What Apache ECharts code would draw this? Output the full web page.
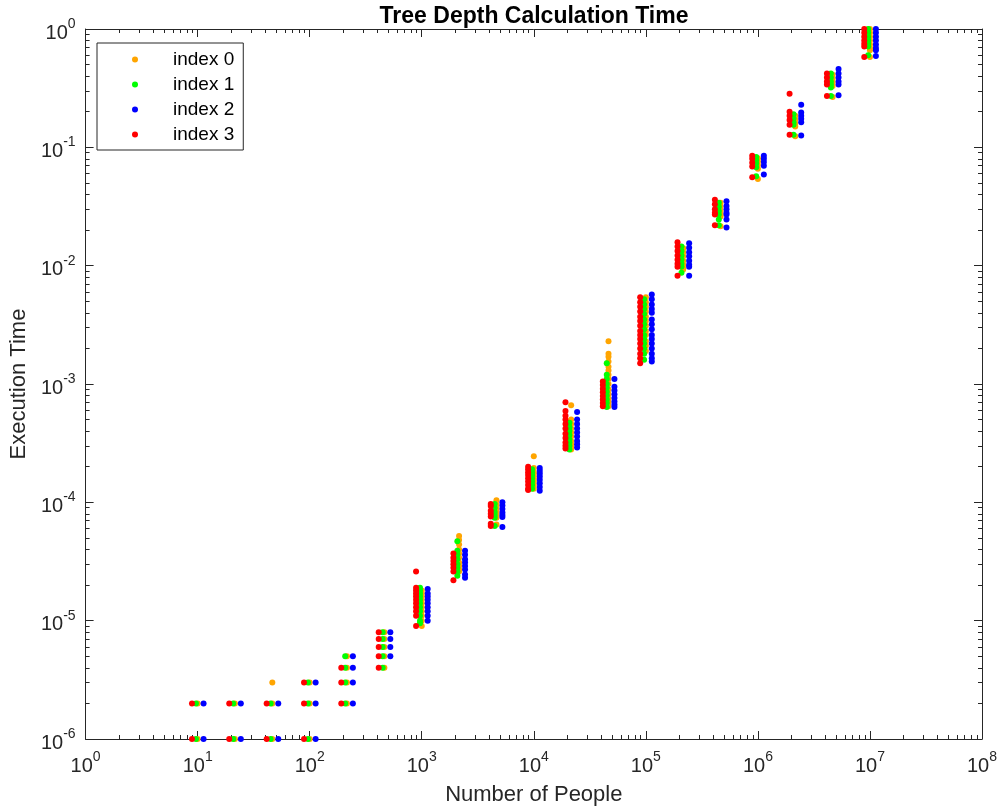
<!DOCTYPE html>
<html>
<head>
<meta charset="utf-8">
<title>Tree Depth Calculation Time</title>
<script src="https://cdn.jsdelivr.net/npm/echarts@6/dist/echarts.min.js"></script>
<style>
  html, body { margin: 0; padding: 0; background: #fff; }
  #main { width: 1001px; height: 811px; }
</style>
</head>
<body>
<div id="main"></div>
<script>
// problem sizes (number of people), 3 per decade
var sizes = [10, 21.5, 46.4, 100, 215, 464, 1000, 2154, 4642, 10000, 21544, 46416,
             100000, 215443, 464159, 1000000, 2154435, 4641589, 10000000];
var names = ['index 0', 'index 1', 'index 2', 'index 3'];
var colors = ['#FFA500', '#00FF00', '#0000FF', '#FF0000'];
// small horizontal shift of each index around the size
var jitter = [1.0, 0.965, 1.13, 0.89];

// execution times, one list per size
var times0 = [
  [1e-6, 2e-6], [1e-6, 2e-6], [1e-6, 2e-6, 3e-6], [1e-6, 2e-6, 3e-6],
  [2e-6, 3e-6, 4e-6, 5e-6], [4e-6, 5e-6, 6e-6, 7e-6, 8e-6],
  [1.8e-5, 1.7e-5, 1.6e-5, 1.5e-5, 1.4e-5, 1.3e-5, 1.2e-5, 1.1e-5, 1.0e-5, 9e-6],
  [5.2e-5, 4.8e-5, 4.4e-5, 4.0e-5, 3.7e-5, 3.4e-5, 3.1e-5, 2.9e-5, 2.7e-5, 2.6e-5],
  [1.04e-4, 9.6e-5, 9.0e-5, 8.4e-5, 7.9e-5, 7.4e-5, 6.5e-5],
  [2.45e-4, 1.95e-4, 1.8e-4, 1.7e-4, 1.6e-4, 1.5e-4, 1.4e-4, 1.3e-4],
  [6.6e-4, 5.0e-4, 4.6e-4, 4.2e-4, 3.9e-4, 3.6e-4, 3.3e-4, 3.1e-4, 2.9e-4, 2.8e-4],
  [2.3e-3, 1.8e-3, 1.7e-3, 1.55e-3, 1.4e-3, 1.3e-3, 1.2e-3, 1.1e-3, 1.0e-3, 9.0e-4, 8.2e-4, 7.5e-4, 7.0e-4, 6.5e-4],
  [5.4e-3, 4.9e-3, 4.5e-3, 4.1e-3, 3.7e-3, 3.4e-3, 3.1e-3, 2.8e-3, 2.6e-3, 2.3e-3, 2.1e-3, 1.9e-3],
  [1.4e-2, 1.3e-2, 1.2e-2, 1.1e-2, 1.02e-2, 9.5e-3, 9.3e-3],
  [3.4e-2, 3.15e-2, 2.9e-2, 2.7e-2, 2.6e-2, 2.15e-2],
  [8.1e-2, 7.6e-2, 7.1e-2, 6.6e-2, 5.4e-2],
  [0.185, 0.172, 0.16, 0.15, 0.124],
  [0.41, 0.38, 0.355, 0.33, 0.266],
  [1.0, 0.93, 0.86, 0.8, 0.74, 0.69, 0.66, 0.58]
];
var times1 = [
  [1e-6, 2e-6], [1e-6, 2e-6], [1e-6, 2e-6], [1e-6, 2e-6, 3e-6],
  [2e-6, 3e-6, 4e-6, 5e-6], [4e-6, 5e-6, 6e-6, 7e-6, 8e-6],
  [1.9e-5, 1.8e-5, 1.7e-5, 1.6e-5, 1.5e-5, 1.4e-5, 1.3e-5, 1.2e-5, 1.1e-5, 1.0e-5, 9.5e-6],
  [4.7e-5, 3.9e-5, 3.6e-5, 3.3e-5, 3.0e-5, 2.8e-5, 2.6e-5, 2.4e-5],
  [9.7e-5, 9.0e-5, 8.3e-5, 7.8e-5, 7.4e-5, 6.3e-5],
  [1.9e-4, 1.8e-4, 1.7e-4, 1.6e-4, 1.5e-4, 1.4e-4, 1.3e-4],
  [4.7e-4, 4.3e-4, 4.0e-4, 3.7e-4, 3.4e-4, 3.2e-4, 3.0e-4, 2.8e-4],
  [1.5e-3, 1.2e-3, 1.1e-3, 1.0e-3, 9.3e-4, 8.6e-4, 8.0e-4, 7.4e-4, 6.9e-4, 6.4e-4],
  [5.2e-3, 4.7e-3, 4.3e-3, 3.9e-3, 3.5e-3, 3.2e-3, 2.9e-3, 2.6e-3, 2.4e-3, 2.2e-3, 2.0e-3, 1.8e-3, 1.6e-3],
  [1.45e-2, 1.33e-2, 1.22e-2, 1.12e-2, 1.04e-2, 9.8e-3, 8.7e-3],
  [3.4e-2, 3.15e-2, 2.9e-2, 2.7e-2, 2.45e-2, 2.2e-2],
  [8.3e-2, 7.8e-2, 7.3e-2, 6.8e-2, 5.7e-2],
  [0.19, 0.175, 0.163, 0.155, 0.128],
  [0.42, 0.39, 0.36, 0.34, 0.32, 0.272],
  [1.0, 0.93, 0.86, 0.8, 0.75, 0.71, 0.60]
];
var times2 = [
  [1e-6, 2e-6], [1e-6, 2e-6], [1e-6, 2e-6], [1e-6, 2e-6, 3e-6],
  [2e-6, 3e-6, 4e-6, 5e-6], [5e-6, 6e-6, 7e-6, 8e-6],
  [1.85e-5, 1.7e-5, 1.6e-5, 1.5e-5, 1.4e-5, 1.3e-5, 1.2e-5, 1.1e-5, 1.0e-5],
  [3.9e-5, 3.6e-5, 3.3e-5, 3.1e-5, 2.9e-5, 2.7e-5, 2.45e-5, 2.3e-5],
  [1.0e-4, 9.4e-5, 8.8e-5, 8.2e-5, 7.8e-5, 7.5e-5, 6.2e-5],
  [1.95e-4, 1.85e-4, 1.75e-4, 1.65e-4, 1.55e-4, 1.45e-4, 1.35e-4, 1.25e-4],
  [5.8e-4, 5.0e-4, 4.6e-4, 4.2e-4, 3.9e-4, 3.6e-4, 3.3e-4, 3.1e-4, 2.9e-4],
  [1.1e-3, 9.5e-4, 8.8e-4, 8.2e-4, 7.6e-4, 7.1e-4, 6.7e-4, 6.4e-4],
  [5.7e-3, 5.2e-3, 4.7e-3, 4.3e-3, 4.0e-3, 3.5e-3, 3.2e-3, 2.9e-3, 2.6e-3, 2.4e-3, 2.2e-3, 2.0e-3, 1.8e-3, 1.65e-3, 1.55e-3],
  [1.55e-2, 1.42e-2, 1.3e-2, 1.2e-2, 1.1e-2, 1.02e-2, 9.8e-3, 8.2e-3],
  [3.5e-2, 3.2e-2, 3.0e-2, 2.8e-2, 2.7e-2, 2.45e-2, 2.1e-2],
  [8.5e-2, 8.0e-2, 7.5e-2, 7.0e-2, 5.9e-2],
  [0.229, 0.197, 0.185, 0.174, 0.163, 0.126],
  [0.46, 0.42, 0.39, 0.36, 0.34, 0.276],
  [1.0, 0.93, 0.86, 0.8, 0.74, 0.69, 0.66, 0.59]
];
var times3 = [
  [1e-6, 2e-6], [1e-6, 2e-6], [1e-6, 2e-6], [1e-6, 2e-6, 3e-6],
  [2e-6, 3e-6, 4e-6], [4e-6, 5e-6, 6e-6, 7e-6, 8e-6],
  [2.6e-5, 1.9e-5, 1.8e-5, 1.7e-5, 1.6e-5, 1.5e-5, 1.4e-5, 1.3e-5, 1.2e-5, 1.1e-5, 9e-6],
  [3.7e-5, 3.4e-5, 3.2e-5, 3.0e-5, 2.8e-5, 2.6e-5, 2.2e-5],
  [9.7e-5, 9.3e-5, 8.5e-5, 8.0e-5, 7.6e-5, 6.6e-5, 6.3e-5],
  [2.0e-4, 1.9e-4, 1.8e-4, 1.7e-4, 1.6e-4, 1.5e-4, 1.4e-4, 1.3e-4, 1.27e-4],
  [7.0e-4, 5.9e-4, 5.4e-4, 5.0e-4, 4.6e-4, 4.2e-4, 3.8e-4, 3.5e-4, 3.2e-4, 3.0e-4, 2.85e-4],
  [1.05e-3, 9.8e-4, 9.1e-4, 8.5e-4, 7.9e-4, 7.4e-4, 6.9e-4, 6.5e-4],
  [5.4e-3, 4.9e-3, 4.5e-3, 4.1e-3, 3.7e-3, 3.4e-3, 3.1e-3, 2.8e-3, 2.6e-3, 2.4e-3, 2.2e-3, 2.0e-3, 1.8e-3, 1.65e-3, 1.5e-3],
  [1.58e-2, 1.45e-2, 1.33e-2, 1.22e-2, 1.12e-2, 1.04e-2, 9.8e-3, 8.2e-3],
  [3.6e-2, 3.3e-2, 3.0e-2, 2.8e-2, 2.7e-2, 2.2e-2],
  [8.5e-2, 8.0e-2, 7.4e-2, 6.9e-2, 5.6e-2],
  [0.283, 0.2, 0.185, 0.17, 0.155, 0.128],
  [0.42, 0.39, 0.36, 0.34, 0.272],
  [1.0, 0.93, 0.86, 0.8, 0.75, 0.71, 0.58]
];
var allTimes = [times0, times1, times2, times3];

var axisColor = '#262626';
var font = 'Liberation Sans, Arial, Helvetica, sans-serif';

// 10^k labels with a raised exponent
function powLabel(v) {
  var e = Math.round(Math.log(v) / Math.LN10);
  return '{b|10}{s|' + e + '}';
}
var powRich = {
  b: { fontSize: 20, lineHeight: 26, verticalAlign: 'bottom', color: axisColor, fontFamily: font },
  s: { fontSize: 14, lineHeight: 14, verticalAlign: 'top', color: axisColor, fontFamily: font }
};

function logAxis(extra) {
  var a = {
    type: 'log', logBase: 10,
    axisLine: { show: true, onZero: false, lineStyle: { color: axisColor, width: 1 } },
    axisTick: { show: true, inside: true, length: 8, lineStyle: { color: axisColor } },
    minorTick: { show: true, splitNumber: 9, length: 4, lineStyle: { color: axisColor } },
    splitLine: { show: false },
    minorSplitLine: { show: false }
  };
  for (var k in extra) a[k] = extra[k];
  return a;
}

var seriesList = [];
for (var i = 0; i < names.length; i++) {
  var pts = [];
  for (var j = 0; j < sizes.length; j++) {
    var ys = allTimes[i][j];
    for (var m = 0; m < ys.length; m++) {
      pts.push([sizes[j] * jitter[i], ys[m]]);
    }
  }
  seriesList.push({
    name: names[i],
    type: 'scatter',
    symbol: 'circle',
    symbolSize: 6,
    itemStyle: { color: colors[i], opacity: 1 },
    data: pts
  });
}

var myChart = echarts.init(document.getElementById('main'));
var option = {
  animation: false,
  backgroundColor: '#fff',
  title: {
    text: 'Tree Depth Calculation Time',
    left: 529, top: 0, textAlign: 'center',
    textStyle: { fontSize: 23, fontWeight: 'bold', color: '#000', fontFamily: font }
  },
  grid: { left: 80, right: 19, top: 29, bottom: 70, containLabel: false },
  legend: {
    orient: 'vertical',
    left: 97, top: 43,
    padding: [7, 9, 6, 35],
    itemGap: 6,
    itemWidth: 6, itemHeight: 6,
    icon: 'circle',
    borderColor: axisColor, borderWidth: 1,
    backgroundColor: '#fff',
    textStyle: { fontSize: 19, lineHeight: 18, color: '#000', fontFamily: font, padding: [0, 0, 0, 30] },
    data: names
  },
  xAxis: [
    logAxis({
      position: 'bottom', min: 1, max: 1e8, splitNumber: 8,
      name: 'Number of People', nameLocation: 'middle', nameGap: 45,
      nameTextStyle: { fontSize: 22, color: axisColor, fontFamily: font },
      axisLabel: { show: true, margin: 11, formatter: powLabel, rich: powRich }
    }),
    logAxis({
      position: 'top', min: 1, max: 1e8, splitNumber: 8,
      axisLabel: { show: false }
    })
  ],
  yAxis: [
    logAxis({
      position: 'left', min: 1e-6, max: 1, splitNumber: 6,
      name: 'Execution Time', nameLocation: 'middle', nameGap: 55, nameRotate: 90,
      nameTextStyle: { fontSize: 22, color: axisColor, fontFamily: font },
      axisLabel: { show: true, margin: 10, formatter: powLabel, rich: powRich, padding: [2, 0, 0, 0] }
    }),
    logAxis({
      position: 'right', min: 1e-6, max: 1, splitNumber: 6,
      axisLabel: { show: false }
    })
  ],
  series: seriesList
};
myChart.setOption(option);
</script>
</body>
</html>
